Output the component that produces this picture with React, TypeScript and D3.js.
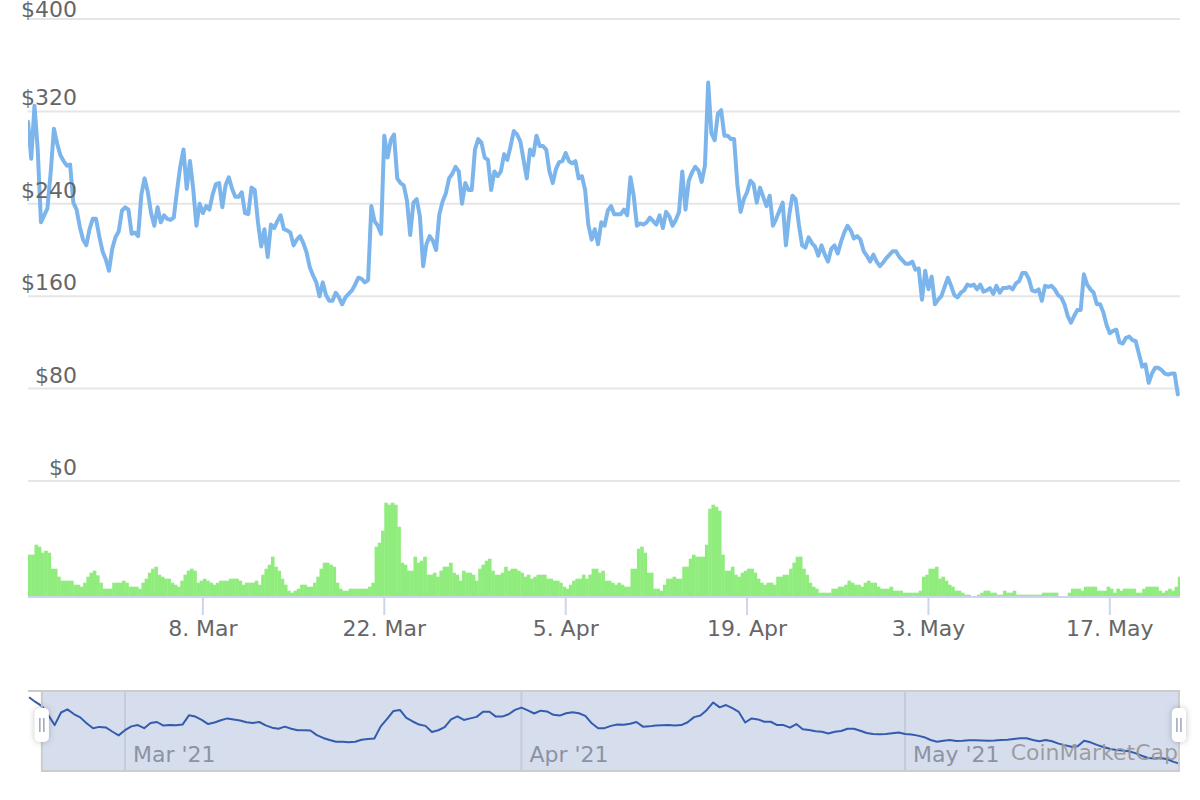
import React from 'react';
import * as d3 from 'd3';

// Price series: one reading every 6 hours, starting 22 Feb 2021 12:00 UTC
const PRICE_START = Date.UTC(2021, 1, 22, 12);
const PRICE_STEP_H = 6;
const priceValues = [
  311, 279, 325, 287, 224, 230, 236, 267, 305, 292,
  282, 277, 273, 274, 241, 235, 220, 209, 204, 218,
  227, 227, 212, 199, 192, 182, 201, 211, 216, 234,
  237, 235, 214, 215, 212, 248, 262, 250, 232, 221,
  237, 224, 230, 227, 226, 228, 251, 272, 287, 253,
  277, 253, 221, 240, 232, 238, 235, 248, 257, 258,
  237, 256, 263, 253, 246, 246, 250, 232, 231, 254,
  252, 224, 203, 218, 194, 222, 219, 225, 230, 218,
  217, 215, 204, 209, 212, 206, 198, 185, 178, 172,
  160, 172, 161, 156, 156, 163, 159, 153, 159, 162,
  165, 170, 176, 175, 172, 174, 238, 225, 221, 214,
  299, 280, 295, 300, 262, 258, 256, 243, 213, 241,
  244, 229, 186, 205, 212, 208, 200, 231, 242, 249,
  262, 266, 272, 268, 240, 258, 252, 252, 287, 296,
  293, 280, 278, 252, 268, 264, 268, 283, 278, 290,
  303, 300, 294, 278, 262, 287, 282, 299, 290, 290,
  287, 268, 258, 270, 276, 277, 284, 277, 275, 277,
  262, 264, 252, 222, 209, 218, 205, 224, 221, 234,
  238, 231, 231, 231, 235, 230, 263, 247, 221, 223,
  222, 224, 228, 225, 222, 230, 219, 233, 229, 221,
  226, 233, 268, 235, 260, 267, 272, 269, 259, 273,
  345, 301, 295, 318, 321, 299, 299, 296, 296, 257,
  233, 244, 250, 260, 257, 241, 254, 246, 238, 247,
  221, 227, 234, 241, 204, 230, 247, 244, 222, 204,
  202, 211, 206, 203, 195, 204, 196, 190, 201, 204,
  197, 207, 215, 221, 217, 210, 212, 209, 199, 195,
  190, 196, 190, 186, 189, 193, 196, 199, 199, 194,
  191, 188, 188, 190, 183, 184, 157, 182, 166, 177,
  153, 157, 160, 168, 176, 169, 161, 159, 163, 165,
  170, 169, 170, 166, 170, 164, 165, 167, 162, 169,
  163, 167, 167, 168, 166, 171, 173, 180, 180, 175,
  165, 164, 166, 156, 169, 168, 169, 166, 161, 159,
  153, 143, 137, 143, 148, 148, 179, 170, 166, 163,
  153, 153, 146, 135, 128, 130, 131, 120, 119, 124,
  125, 122, 121, 110, 99, 101, 85, 93, 98, 98,
  96, 93, 92, 93, 93, 75,
];

// Volume ($M), same 6-hour steps
const volumeValues = [
  413, 413, 513, 493, 433, 453, 433, 273, 273, 193,
  153, 153, 153, 153, 113, 113, 93, 133, 193, 233,
  253, 207, 133, 73, 73, 73, 133, 133, 133, 153,
  133, 93, 93, 93, 73, 133, 173, 233, 273, 293,
  213, 193, 173, 173, 133, 113, 93, 153, 213, 253,
  273, 253, 133, 153, 173, 153, 133, 113, 133, 153,
  153, 153, 173, 173, 173, 153, 113, 133, 133, 133,
  153, 113, 213, 273, 313, 393, 293, 253, 173, 113,
  53, 33, 53, 73, 113, 113, 93, 93, 133, 193,
  273, 333, 333, 313, 293, 133, 73, 53, 53, 73,
  73, 73, 73, 73, 73, 93, 133, 493, 533, 653,
  933, 913, 933, 913, 693, 333, 313, 253, 253, 393,
  333, 353, 393, 213, 213, 233, 193, 253, 293, 293,
  333, 233, 213, 153, 253, 233, 233, 213, 153, 273,
  313, 353, 373, 253, 213, 213, 233, 293, 253, 273,
  273, 253, 233, 193, 213, 173, 193, 213, 213, 213,
  173, 173, 153, 153, 133, 93, 73, 113, 153, 173,
  173, 213, 173, 213, 273, 273, 233, 253, 153, 153,
  133, 113, 133, 113, 93, 93, 273, 273, 473, 493,
  433, 233, 233, 73, 73, 53, 113, 173, 173, 193,
  173, 173, 293, 293, 373, 413, 393, 393, 393, 513,
  873, 913, 893, 853, 413, 253, 253, 293, 213, 193,
  233, 253, 273, 273, 233, 173, 133, 113, 133, 133,
  113, 193, 193, 213, 213, 273, 333, 393, 393, 273,
  213, 133, 93, 73, 33, 33, 33, 33, 73, 73,
  93, 93, 113, 153, 133, 113, 113, 93, 133, 153,
  133, 133, 93, 73, 73, 73, 93, 53, 53, 53,
  33, 33, 33, 33, 33, 53, 193, 213, 273, 273,
  293, 173, 193, 153, 113, 93, 53, 53, 33, 13,
  13, 0, 0, 13, 33, 53, 53, 33, 33, 13,
  13, 53, 33, 33, 53, 13, 13, 13, 13, 13,
  13, 13, 13, 33, 33, 33, 33, 33, 0, 0,
  0, 33, 73, 73, 73, 53, 93, 93, 93, 93,
  53, 53, 53, 93, 73, 33, 73, 53, 73, 73,
  73, 73, 33, 33, 73, 93, 93, 93, 93, 53,
  33, 53, 73, 53, 93, 193,
];

// Navigator series: one reading every 12 hours from 21 Feb 2021 12:00 UTC
const NAV_START = Date.UTC(2021, 1, 21, 12);
const NAV_STEP_H = 12;
const navValues = [
  341, 323, 307, 272, 233, 282, 294, 276, 263, 240,
  221, 226, 224, 208, 193, 213, 228, 233, 221, 241,
  245, 231, 233, 232, 235, 271, 266, 253, 237, 243,
  252, 259, 255, 251, 244, 241, 245, 232, 223, 219,
  227, 219, 213, 213, 212, 194, 183, 175, 168, 168,
  166, 168, 176, 179, 181, 228, 257, 288, 292, 261,
  247, 235, 230, 206, 213, 225, 255, 267, 253, 259,
  265, 285, 285, 266, 266, 275, 292, 301, 290, 278,
  289, 286, 273, 270, 279, 283, 279, 269, 240, 221,
  221, 230, 235, 234, 238, 245, 227, 228, 231, 232,
  233, 231, 233, 244, 264, 270, 292, 321, 302, 311,
  299, 284, 243, 259, 255, 246, 246, 233, 233, 223,
  237, 217, 214, 209, 207, 200, 207, 210, 219, 219,
  211, 202, 198, 197, 198, 201, 204, 198, 196, 192,
  186, 175, 168, 172, 175, 171, 172, 174, 174, 173,
  172, 173, 175, 176, 179, 182, 182, 175, 170, 175,
  170, 161, 155, 149, 151, 172, 166, 156, 148, 141,
  136, 134, 131, 124, 114, 105, 103, 105, 100, 90,
  82,
];

const priceTicks = [0, 80, 160, 240, 320, 400];
const dateTicks = ['2021-03-08', '2021-03-22', '2021-04-05', '2021-04-19', '2021-05-03', '2021-05-17'];
const navTicks = ['2021-03-01', '2021-04-01', '2021-05-01'];

const MAIN_DOMAIN: [number, number] = [Date.UTC(2021, 1, 22, 12), Date.UTC(2021, 4, 22, 10)];
const NAV_DOMAIN: [number, number] = [Date.UTC(2021, 1, 21, 10), Date.UTC(2021, 4, 22, 12)];

const FONT = '"DejaVu Sans", Verdana, sans-serif';
const HOUR = 3600 * 1000;

const App: React.FC = () => {
  const left = 28;
  const right = 1180;

  const x = d3.scaleUtc().domain(MAIN_DOMAIN).range([left, right]);
  const y = d3.scaleLinear().domain([0, 400]).range([481, 19]);
  const vy = d3.scaleLinear().domain([0, 1060]).range([596, 490]);
  const nx = d3.scaleUtc().domain(NAV_DOMAIN).range([left, right]);
  const ny = d3.scaleLinear().domain([70, 350]).range([767, 695]);

  const priceTime = (i: number) => PRICE_START + i * PRICE_STEP_H * HOUR;

  const priceLine = d3
    .line<number>()
    .x((_, i) => x(priceTime(i)))
    .y((d) => y(d));

  const navLine = d3
    .line<number>()
    .x((_, i) => nx(NAV_START + i * NAV_STEP_H * HOUR))
    .y((d) => ny(d));

  const fmt = d3.utcFormat('%-d. %b');
  const navFmt = d3.utcFormat("%b '%y");

  const navTop = 691;
  const navBottom = 771;
  const selMin = nx(MAIN_DOMAIN[0]);
  const selMax = nx(MAIN_DOMAIN[1]);

  const handle = (cx: number, key: string) => (
    <g key={key}>
      <rect x={cx - 7} y={708} width={14} height={34} rx={5} fill='#fff' filter='url(#hshadow)' />
      <line x1={cx - 2} x2={cx - 2} y1={718} y2={732} stroke='#9aa3bb' strokeWidth={1.5} />
      <line x1={cx + 2} x2={cx + 2} y1={718} y2={732} stroke='#9aa3bb' strokeWidth={1.5} />
    </g>
  );

  return (
    <svg
      width={1200}
      height={800}
      style={{ position: 'absolute', left: 0, top: 0, background: '#fff' }}
      fontFamily={FONT}
    >
      <defs>
        <clipPath id='plotClip'>
          <rect x={left} y={0} width={right - left} height={800} />
        </clipPath>
        <filter id='hshadow' x='-100%' y='-50%' width='300%' height='200%'>
          <feDropShadow dx={0} dy={0} stdDeviation={3} floodColor='#000' floodOpacity={0.25} />
        </filter>
      </defs>

      {/* grid */}
      {priceTicks.map((t) => (
        <line key={t} x1={left} x2={right} y1={y(t)} y2={y(t)} stroke='#e6e6e6' strokeWidth={2} />
      ))}

      {/* volume */}
      <g clipPath='url(#plotClip)'>
        {volumeValues.map((v, i) => {
          const x0 = x(priceTime(i));
          const x1 = x(priceTime(i + 1));
          return (
            <rect key={i} x={x0} y={vy(v)} width={x1 - x0 + 0.4} height={596 - vy(v)} fill='#90ed7d' />
          );
        })}
      </g>

      {/* x axis */}
      <line x1={left} x2={right} y1={597} y2={597} stroke='#ccd6eb' strokeWidth={2} />
      {dateTicks.map((d) => {
        const tx = x(new Date(d + 'T00:00:00Z'));
        return (
          <g key={d}>
            <line x1={tx} x2={tx} y1={597} y2={615} stroke='#ccd6eb' strokeWidth={2} />
            <text x={tx} y={636} textAnchor='middle' fontSize={22} fill='#666'>
              {fmt(new Date(d + 'T00:00:00Z'))}
            </text>
          </g>
        );
      })}

      {/* price line */}
      <path
        d={priceLine(priceValues) || ''}
        fill='none'
        stroke='#7cb5ec'
        strokeWidth={4}
        strokeLinejoin='round'
        strokeLinecap='round'
        clipPath='url(#plotClip)'
      />

      {/* y labels */}
      {priceTicks.map((t) => (
        <text key={t} x={77} y={Math.max(y(t) - 6, 17)} textAnchor='end' fontSize={22} fill='#666'>
          {`$${t}`}
        </text>
      ))}

      {/* navigator */}
      {navTicks.map((d) => {
        const tx = nx(new Date(d + 'T00:00:00Z'));
        return (
          <g key={d}>
            <line x1={tx} x2={tx} y1={navTop} y2={navBottom} stroke='#e6e6e6' strokeWidth={2} />
            <text x={tx + 8} y={762} fontSize={22} fill='#999'>
              {navFmt(new Date(d + 'T00:00:00Z'))}
            </text>
          </g>
        );
      })}
      <rect
        x={selMin}
        y={navTop}
        width={selMax - selMin}
        height={navBottom - navTop}
        fill='rgba(102,133,194,0.27)'
      />
      <path
        d={navLine(navValues) || ''}
        fill='none'
        stroke='#335cad'
        strokeWidth={2}
        strokeLinejoin='round'
        clipPath='url(#plotClip)'
      />
      <path
        d={`M${left},${navTop}H${right}M${selMin},${navTop}V${navBottom}H${selMax}V${navTop}`}
        fill='none'
        stroke='#cccccc'
        strokeWidth={2}
      />
      {handle(selMin, 'hl')}
      {handle(selMax, 'hr')}

      {/* watermark */}
      <text x={1178} y={760} textAnchor='end' fontSize={22} fill='#999' fillOpacity={0.95}>
        CoinMarketCap
      </text>
    </svg>
  );
};

export default App;
